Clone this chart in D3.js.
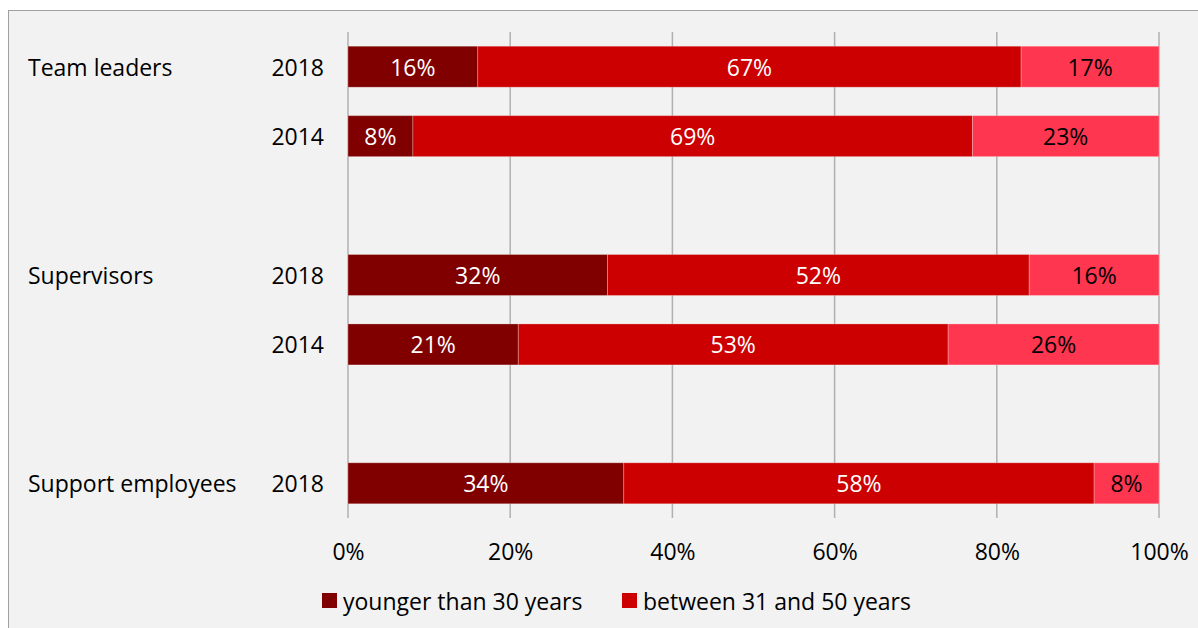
<!DOCTYPE html>
<html><head><meta charset="utf-8">
<script src="https://cdn.jsdelivr.net/npm/d3@7"></script>
<style>body{margin:0;background:#fff;}svg{display:block;font-family:"Open Sans",Lato,sans-serif;}</style>
</head><body><svg id="c" width="1198" height="628"></svg>
<script>
const rows = [
  {group:"Team leaders", year:"2018", slot:0},
  {group:"Team leaders", year:"2014", slot:1},
  {group:"Supervisors", year:"2018", slot:3},
  {group:"Supervisors", year:"2014", slot:4},
  {group:"Support employees", year:"2018", slot:6}
];
const seriesNames = ["younger than 30 years", "between 31 and 50 years", "older than 50 years"];
const young = [16, 8, 32, 21, 34];
const middle = [67, 69, 52, 53, 58];
const older = [17, 23, 16, 26, 8];
const tickValues = [0, 20, 40, 60, 80, 100];
const colors = ["#800000", "#cc0000", "#ff364f"];
const labelColors = ["#ffffff", "#ffffff", "#000000"];
const FS = "23px";

const svg = d3.select("#c");
svg.append("rect").attr("x",0).attr("y",0).attr("width",1198).attr("height",628).attr("fill","#fff");
svg.append("rect").attr("x",8.5).attr("y",10.5).attr("width",1200).attr("height",640)
  .attr("fill","#f2f2f2").attr("stroke","#a0a0a0").attr("stroke-width",1);

const x = d3.scaleLinear().domain([0,100]).range([348,1159]);
const y = d3.scaleBand().domain(d3.range(7)).range([32,518]).paddingInner(0.41).paddingOuter(0.205);

svg.append("g").selectAll("line").data(tickValues).join("line")
  .attr("x1",d=>x(d)).attr("x2",d=>x(d)).attr("y1",32).attr("y2",518)
  .attr("stroke","#b0b0b0").attr("stroke-width",1.5);

const table = rows.map((r,i)=>({...r, v:[young[i], middle[i], older[i]]}));
const stacked = d3.stack().keys([0,1,2]).value((d,k)=>d.v[k])(table);

const gb = svg.append("g");
stacked.forEach((layer,k)=>{
  const g = gb.append("g");
  g.selectAll("rect").data(layer).join("rect")
    .attr("x",d=>x(d[0])).attr("width",d=>x(d[1])-x(d[0]))
    .attr("y",d=>y(d.data.slot)).attr("height",y.bandwidth())
    .attr("fill",colors[k]).attr("stroke","rgba(255,255,255,0.25)").attr("stroke-width",1);
  g.selectAll("text").data(layer).join("text")
    .attr("x",d=>(x(d[0])+x(d[1]))/2).attr("y",d=>y(d.data.slot)+y.bandwidth()/2)
    .attr("text-anchor","middle").attr("dominant-baseline","central")
    .attr("fill",labelColors[k]).style("font-size",FS)
    .text(d=>d.data.v[k]+"%");
});

svg.append("g").selectAll("text").data(rows).join("text")
  .attr("x",324).attr("y",d=>y(d.slot)+y.bandwidth()/2)
  .attr("text-anchor","end").attr("dominant-baseline","central")
  .style("font-size",FS).attr("fill","#000").text(d=>d.year);
const groupRows = rows.filter((r,i)=>i===0||rows[i-1].group!==r.group);
svg.append("g").selectAll("text").data(groupRows).join("text")
  .attr("x",28).attr("y",d=>y(d.slot)+y.bandwidth()/2)
  .attr("dominant-baseline","central")
  .style("font-size",FS).attr("fill","#000").text(d=>d.group);

const ax = svg.append("g").attr("transform","translate(0,552)")
  .call(d3.axisBottom(x).tickValues(tickValues).tickFormat(d=>d+"%").tickSize(0).tickPadding(0));
ax.select(".domain").remove();
ax.selectAll("text").style("font-size",FS).style("font-family","'Open Sans',Lato,sans-serif")
  .attr("fill","#000").attr("dy","0.35em").attr("y",0);

const legendX = [322, 622];
const lg = svg.append("g");
[0,1].forEach(k=>{
  lg.append("rect").attr("x",legendX[k]).attr("y",593).attr("width",15).attr("height",15).attr("fill",colors[k]);
  lg.append("text").attr("x",legendX[k]+21).attr("y",601).attr("dominant-baseline","central")
    .style("font-size",FS).attr("fill","#000").text(seriesNames[k]);
});
</script></body></html>
